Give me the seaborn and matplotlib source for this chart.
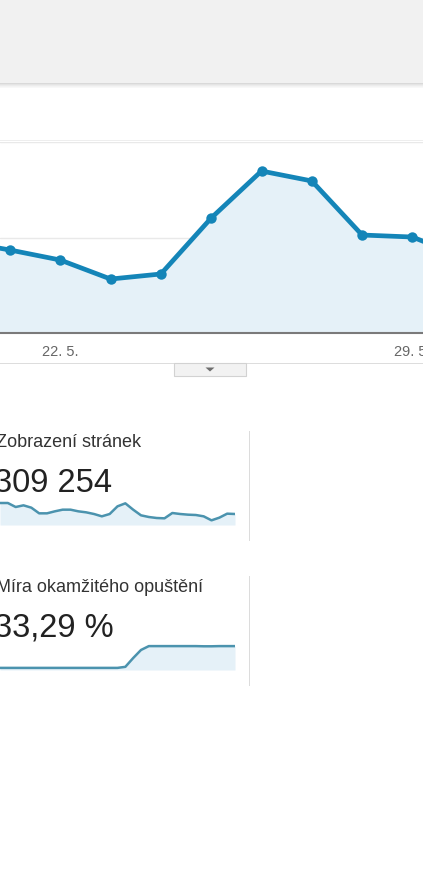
import matplotlib
matplotlib.use("Agg")
import matplotlib.pyplot as plt
from matplotlib.patches import Rectangle, Polygon
import numpy as np
import seaborn as sns

# main chart: daily values (20. 5. .. 30. 5.), edges are partly cut off
days = [20, 21, 22, 23, 24, 25, 26, 27, 28, 29, 30]
day_values = [9630, 8690, 7640, 5650, 6180, 12040, 16960, 15920, 10260, 10050, 7960]
tick_days = [22, 29]
tick_labels = ["22. 5.", "29. 5."]

# sparklines (one value per day of the month)
pageviews_label = "Zobrazení stránek"
pageviews_total = "309 254"
pageviews = [16500, 16500, 13500, 14750, 13000, 8750, 8750, 10250, 11500, 11500,
             10250, 9500, 8250, 6500, 8250, 14000, 16250, 11500, 7250, 6000,
             5250, 5000, 9000, 8250, 7750, 7500, 6500, 3500, 5500, 8500, 8250]

bounce_label = "Míra okamžitého opuštění"
bounce_total = "33,29 %"
bounce = [0, 0, 0, 0, 0, 0, 0, 0, 0, 0, 0, 0, 0, 0, 0, 0,
          3, 28, 51, 62, 62, 62, 62, 62, 62, 62, 61.5, 61.5, 62, 62, 62]

W, H = 423, 870
BLUE = "#1485b8"
FILL = "#e5f1f8"
SPARK = "#4b93ae"

sns.set_style("white")
plt.rcParams["font.family"] = ["Liberation Sans", "DejaVu Sans"]

fig = plt.figure(figsize=(W / 100, H / 100), dpi=100)
fig.patch.set_facecolor("white")


def box(x0, y0, x1, y1):
    # pixel box (top-left origin) -> figure fraction rect
    return [x0 / W, 1 - y1 / H, (x1 - x0) / W, (y1 - y0) / H]


def fx(x):
    return x / W


def fy(y):
    return 1 - y / H


# grey header band with a soft shadow
fig.patches.append(Rectangle((0, fy(84)), 1, 84 / H, transform=fig.transFigure,
                             facecolor="#f1f1f1", edgecolor="none"))
for i, c in enumerate(["#d9d9d9", "#e4e4e4", "#ececec", "#f3f3f3", "#f8f8f8"]):
    fig.patches.append(Rectangle((0, fy(85 + i)), 1, 1 / H, transform=fig.transFigure,
                                 facecolor=c, edgecolor="none"))
fig.patches.append(Rectangle((0, fy(142)), 1, 1 / H, transform=fig.transFigure,
                             facecolor="#eeeeee", edgecolor="none"))

# main line chart
ax = fig.add_axes(box(0, 143, 423, 334))
ax.fill_between(days, day_values, 0, color=FILL, lw=0, zorder=1)
sns.lineplot(x=days, y=day_values, ax=ax, color=BLUE, lw=3.4, marker="o",
             markersize=7.5, markeredgewidth=0, zorder=3)
ax.set_xlim(21 - 10 / 50.3, 21 + 413 / 50.3)
ax.set_ylim(0, 20000)
ax.set_yticks([10000, 20000])
ax.yaxis.grid(True, color="#e9e9e9", lw=1)
ax.set_axisbelow(True)
ax.set_yticklabels([])
ax.tick_params(axis="y", length=0)
ax.set_xticks(tick_days)
ax.set_xticklabels(tick_labels, fontsize=10.5, color="#666666")
ax.tick_params(axis="x", length=0, pad=8)
for s in ["top", "left", "right"]:
    ax.spines[s].set_visible(False)
ax.spines["bottom"].set_color("#7a7a7a")
ax.spines["bottom"].set_linewidth(1.5)
ax.patch.set_alpha(0)

# divider line and the small drop-down tab
fig.patches.append(Rectangle((0, fy(364.5)), 1, 1 / H, transform=fig.transFigure,
                             facecolor="#dddddd", edgecolor="none"))
fig.patches.append(Rectangle((fx(174), fy(377)), 72 / W, 13 / H, transform=fig.transFigure,
                             facecolor="#f2f2f2", edgecolor="#d2d2d2", lw=0.8))
fig.patches.append(Polygon([[fx(205.5), fy(368.5)], [fx(214.5), fy(368.5)], [fx(210), fy(372.5)]],
                           closed=True, transform=fig.transFigure, facecolor="#6e6e6e",
                           edgecolor="none"))


def sparkline(top, label, total, values, ylim):
    fig.text(fx(-4), fy(top + 15), label, fontsize=13, color="#333333", va="baseline")
    fig.text(fx(-6), fy(top + 60), total, fontsize=23.5, color="#222222", va="baseline")
    sax = fig.add_axes(box(0, top + 68, 235, top + 94))
    x = np.arange(len(values))
    sax.fill_between(x, values, ylim[0], color=FILL, lw=0)
    sns.lineplot(x=x, y=values, ax=sax, color=SPARK, lw=1.8)
    sax.set_xlim(0, len(values) - 1)
    sax.set_ylim(*ylim)
    sax.axis("off")
    fig.patches.append(Rectangle((fx(248.5), fy(top + 110)), 1.2 / W, 110 / H,
                                 transform=fig.transFigure, facecolor="#dcdcdc",
                                 edgecolor="none"))


sparkline(432, pageviews_label, pageviews_total, pageviews, (0, 19500))
sparkline(577, bounce_label, bounce_total, bounce, (-6, 68))

fig.savefig("out.png", dpi=100)
